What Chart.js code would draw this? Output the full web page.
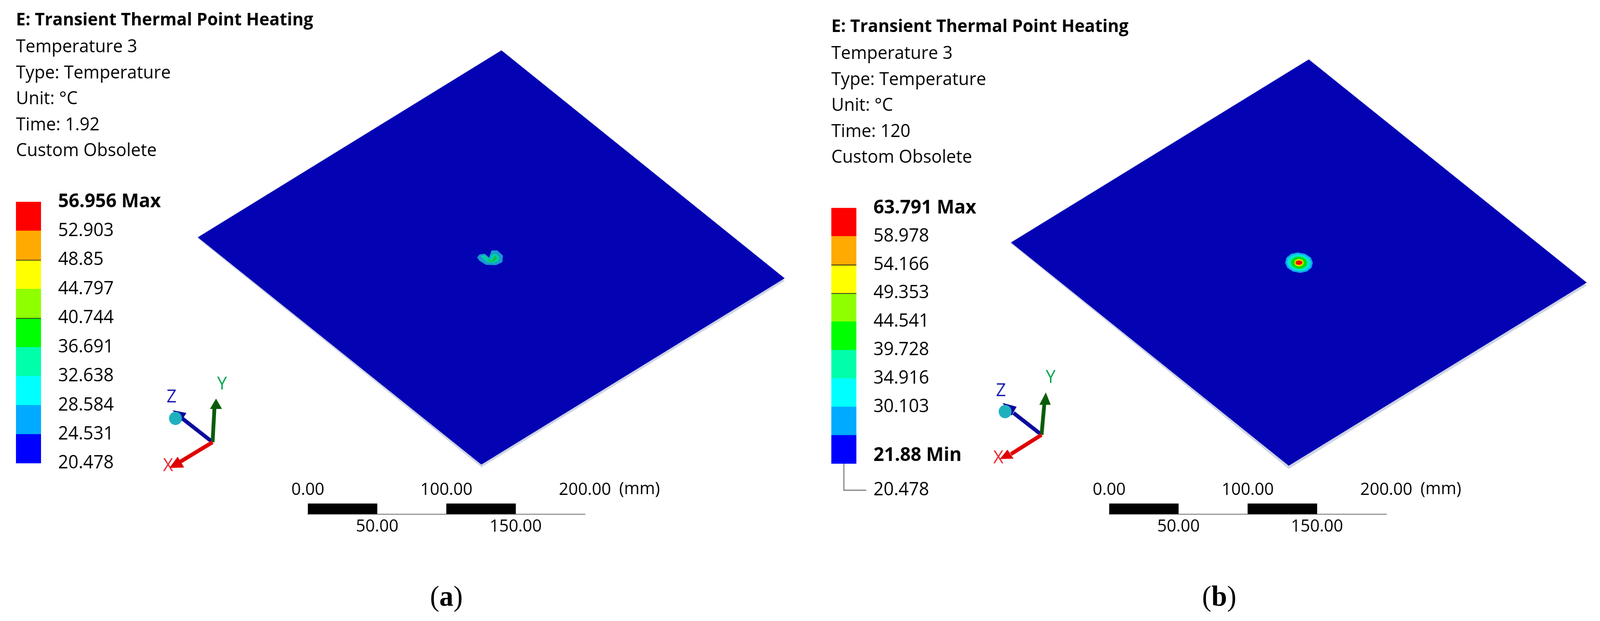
<!DOCTYPE html>
<html>
<head>
<meta charset="utf-8">
<script src="https://cdn.jsdelivr.net/npm/chart.js@4"></script>
<style>
  html, body { margin: 0; background: #fff; height: 1591px; overflow: hidden; }
  #page { position: absolute; left: 0; top: 0; width: 4215px; height: 1591px; overflow: hidden; transform-origin: 0 0; }
  canvas { position: absolute; }
  .cap { position: absolute; top: 1485px; width: 200px; text-align: center; font: 74px "Liberation Serif"; color: #000; }
</style>
</head>
<body>
<div id="page">
  <div class="cap" style="left:1076px">(<b>a</b>)</div>
  <div class="cap" style="left:3112px">(<b>b</b>)</div>
</div>
<script>
// header text
const titleText = 'E: Transient Thermal Point Heating';
const infoLinesA = ['Temperature 3', 'Type: Temperature', 'Unit: °C', 'Time: 1.92', 'Custom Obsolete'];
const infoLinesB = ['Temperature 3', 'Type: Temperature', 'Unit: °C', 'Time: 120', 'Custom Obsolete'];

// colour legend, bottom to top
const bandColors = ['#0000ff', '#00aaff', '#00ffff', '#00ffaa', '#00ff00', '#8fff00', '#ffff00', '#ffaa00', '#ff0000'];
const edgesA = [20.478, 24.531, 28.584, 32.638, 36.691, 40.744, 44.797, 48.85, 52.903, 56.956];
const edgesB = [20.478, 25.29, 30.103, 34.916, 39.728, 44.541, 49.353, 54.166, 58.978, 63.791];
const tickValuesA = edgesA;
const tickLabelsA = ['20.478', '24.531', '28.584', '32.638', '36.691', '40.744', '44.797', '48.85', '52.903', '56.956 Max'];
const tickValuesB = [21.88, 30.103, 34.916, 39.728, 44.541, 49.353, 54.166, 58.978, 63.791];
const tickLabelsB = ['21.88 Min', '30.103', '34.916', '39.728', '44.541', '49.353', '54.166', '58.978', '63.791 Max'];

// scale bar, mm
const barSegments = [[0, 50], [100, 150]];
const barTicksTop = [0, 100, 200];
const barTicksBottom = [50, 150];

// plates in mm, origin at the hot spot
const plateAx = [8.5, 212.9, -6.0, -210.7];
const plateAy = [144.9, -15.1, -145.8, 13.7];
const shadowAy = [144.9, -17.0, -147.7, 12.9];
const plateBx = [7.1, 207.7, -7.4, -207.9];
const plateBy = [142.7, -14.0, -142.5, 14.2];
const shadowBy = [142.7, -16.0, -144.7, 13.4];

// hot spot (a)
const spotA1x = [-9.1, -7.3, -3.6, -0.5, 0.5, 1.4, 5.5, 9.6, 9.1, 4.6, -2.7, -7.3];
const spotA1y = [-0.5, 1.7, 2.2, -0.4, 2.2, 4.5, 4.5, 0.8, -3.8, -5.8, -5.6, -2.8];
const spotA2x = [-6.4, -3.6, 0, 1.8, 4.6, 6.8, 6.4, 2.7, -1.8];
const spotA2y = [0.4, 1.3, -1.9, 1.7, 2.2, -0.1, -2.8, -4.4, -3.8];
const spotA3x = [-4.1, -1.4, 1.8, 3.6, 5.5, 2.7, -0.5];
const spotA3y = [0.8, -1.9, -2.8, 0.8, -1.0, -3.5, -3.1];

// hot spot (b), contour rings from outside in
const ringColors = ['#10a8f0', '#00e6d2', '#00e000', '#e8f000', '#ffaa00', '#e81000'];
const ring1x = [10, 8.5, 4.4, -1, -5.6, -9, -10, -8.4, -4.4, 1, 5.6, 9];
const ring1y = [0, 3.6, 6.2, 7.2, 6.2, 3.6, 0, -3.6, -6.2, -7.2, -6.2, -3.6];
const ring2x = [8.6, 7.3, 3.8, -0.8, -4.8, -7.8, -8.6, -7.3, -3.8, 0.8, 4.8, 7.8];
const ring2y = [0, 3, 5.2, 6, 5.2, 3, 0, -3, -5.2, -6, -5.2, -3];
const ring3x = [5.9, 5, 2.7, -0.4, -3.2, -5.2, -5.9, -5, -2.7, 0.4, 3.2, 5.2];
const ring3y = [0, 2.1, 3.7, 4.3, 3.7, 2.1, 0, -2.1, -3.7, -4.3, -3.7, -2.1];
const ring4x = [3.5, 2.5, 0, -2.5, -3.5, -2.5, 0, 2.5];
const ring4y = [0, 1.9, 2.7, 1.9, 0, -1.9, -2.7, -1.9];
const ring5x = [3, 2.1, 0, -2.1, -3, -2.1, 0, 2.1];
const ring5y = [0, 1.5, 2.1, 1.5, 0, -1.5, -2.1, -1.5];
const ring6x = [2.5, 1.8, 0, -1.8, -2.5, -1.8, 0, 1.8];
const ring6y = [0, 1.1, 1.5, 1.1, 0, -1.1, -1.5, -1.1];

// axis triads, mm on the same plot
const triadA = {
  yShaftX: [-200, -198.6], yShaftY: [-130.1, -105],
  yHeadX: [-197.5, -193.2, -201.9], yHeadY: [-99.5, -106.8, -106.8],
  zShaftX: [-200, -221.9], zShaftY: [-130.1, -113.4],
  zHeadX: [-228.8, -218.9, -222.7], zHeadY: [-107.7, -109.6, -115.6],
  ballX: [-226.8], ballY: [-113.4],
  xShaftX: [-200, -223.6], xShaftY: [-130.1, -144.0],
  xHeadX: [-231.2, -225.2, -220.5], xHeadY: [-148.2, -140.3, -147.9],
  letterX: [-232.1, -193.2, -229.6], letterY: [-146.8, -89.6, -98.6]
};
const triadB = {
  yShaftX: [-185.8, -183.6], yShaftY: [-120.8, -97],
  yHeadX: [-182.7, -179.2, -187.4], yHeadY: [-91.0, -99.7, -99.7],
  zShaftX: [-185.8, -206.0], zShaftY: [-120.8, -105.5],
  zHeadX: [-214, -203.8, -207.4], zHeadY: [-98.4, -101.1, -107.4],
  ballX: [-212.1], ballY: [-104.5],
  xShaftX: [-185.8, -207.9], xShaftY: [-120.8, -134.4],
  xHeadX: [-215.9, -210.4, -206.0], xHeadY: [-137.8, -131.2, -137.5],
  letterX: [-217, -179.2, -215.1], letterY: [-137.3, -80.8, -90.1]
};

// the browser window can come out narrower than asked, keep the whole 4215 wide figure in frame
const page = document.getElementById('page');
page.style.transform = 'scaleX(' + (window.innerWidth / 4215) + ')';

const FONT = '"Open Sans"';
Chart.defaults.font.family = FONT;
Chart.defaults.color = '#000';
Chart.defaults.animation = false;
Chart.defaults.responsive = false;
Chart.defaults.devicePixelRatio = 1;
Chart.defaults.plugins.legend.display = false;
Chart.defaults.plugins.tooltip.enabled = false;

function addCanvas(left, top, width, height) {
  const c = document.createElement('canvas');
  c.width = width;
  c.height = height;
  c.style.left = left + 'px';
  c.style.top = top + 'px';
  page.appendChild(c);
  return c;
}

// colour legend with the header text above it
function legendChart(left, edges, tickValues, tickLabels, info, pad, lines, extra) {
  const bands = bandColors.map((color, i) => {
    const ds = { data: [[edges[i], edges[i + 1]]], backgroundColor: color, grouped: false,
      barPercentage: 1, categoryPercentage: 1 };
    if (lines.includes(i)) {
      ds.borderColor = '#222';
      ds.borderWidth = { top: 2, left: 0, right: 0, bottom: 0 };
      ds.borderSkipped = false;
    }
    return ds;
  });
  new Chart(addCanvas(left, 0, 860, 1300), {
    type: 'bar',
    data: { labels: ['T'], datasets: bands },
    options: {
      layout: { padding: { left: pad.left, right: 0, top: 0, bottom: 1300 - pad.bottom } },
      plugins: {
        title: { display: true, text: titleText, align: 'start',
          font: { size: 45, weight: 'bold', lineHeight: 1.5 }, padding: { top: pad.titleTop, bottom: 2 } },
        subtitle: { display: true, text: info, align: 'start',
          font: { size: 46, weight: 'normal', lineHeight: 66.5 / 46 }, padding: { top: 0, bottom: pad.infoBottom } }
      },
      scales: {
        x: { display: false },
        y: {
          position: 'right',
          min: edges[0],
          max: edges[edges.length - 1],
          grid: { display: false, drawTicks: false },
          border: { display: false },
          afterBuildTicks: s => { s.ticks = tickValues.map(v => ({ value: v })); },
          afterFit: s => { s.width = 860 - pad.left - 66; s.paddingTop = 0; s.paddingBottom = 0; },
          ticks: {
            autoSkip: false,
            padding: 45,
            color: '#000',
            callback: (v, i) => tickLabels[i],
            font: c => /M/.test(tickLabels[c.index] || '') ? { size: 49, weight: 'bold' } : { size: 47, weight: 'normal' }
          }
        }
      }
    },
    plugins: extra ? [extra] : []
  });
}

// leader line from the bottom of legend (b) to its lowest value
const leaderLine = {
  id: 'leaderLine',
  afterDraw(chart) {
    const { ctx, chartArea } = chart;
    const y0 = chart.scales.y.getPixelForValue(edgesB[0]);
    const xMid = (chartArea.left + chartArea.right) / 2;
    ctx.save();
    ctx.strokeStyle = '#808080';
    ctx.lineWidth = 3;
    ctx.beginPath();
    ctx.moveTo(xMid, y0);
    ctx.lineTo(xMid, y0 + 68);
    ctx.lineTo(xMid + 59, y0 + 68);
    ctx.stroke();
    ctx.fillStyle = '#000';
    ctx.font = '47px ' + FONT;
    ctx.textBaseline = 'middle';
    ctx.fillText(String(edgesB[0]), chartArea.right + 45, y0 + 68);
    ctx.restore();
  }
};

function pts(xs, ys) {
  return xs.map((x, i) => ({ x, y: ys[i] }));
}

function plateChart(left, top, layers, triad) {
  const T = triad;
  const shapes = layers.map(l => ({ data: pts(l[0], l[1]), backgroundColor: l[2], fill: 'shape', borderWidth: 0 }));
  const parts = [
    { data: pts(T.zShaftX, T.zShaftY), borderColor: '#0a0a9e', borderWidth: 10 },
    { data: pts(T.zHeadX, T.zHeadY), backgroundColor: '#0a0a9e', fill: 'shape', borderWidth: 0 },
    { data: pts(T.ballX, T.ballY), pointRadius: 17, pointBackgroundColor: '#1fb0c0', pointBorderWidth: 0 },
    { data: pts(T.yShaftX, T.yShaftY), borderColor: '#0a5c0a', borderWidth: 10 },
    { data: pts(T.yHeadX, T.yHeadY), backgroundColor: '#0a5c0a', fill: 'shape', borderWidth: 0 },
    { data: pts(T.xShaftX, T.xShaftY), borderColor: '#e00000', borderWidth: 10 },
    { data: pts(T.xHeadX, T.xHeadY), backgroundColor: '#e00000', fill: 'shape', borderWidth: 0 }
  ];
  const all = shapes.concat(parts);
  all.forEach((d, i) => {
    d.order = all.length - i;
    d.showLine = true;
    d.tension = 0;
    if (d.pointRadius === undefined) d.pointRadius = 0;
  });
  const letters = {
    id: 'triadLetters',
    afterDraw(chart) {
      const { ctx, scales } = chart;
      ctx.save();
      ctx.font = '46px ' + FONT;
      ctx.textAlign = 'center';
      ctx.textBaseline = 'middle';
      [['X', '#e8282f'], ['Y', '#00a550'], ['Z', '#1a1ab0']].forEach((l, i) => {
        ctx.fillStyle = l[1];
        ctx.fillText(l[0], scales.x.getPixelForValue(T.letterX[i]), scales.y.getPixelForValue(T.letterY[i]));
      });
      ctx.restore();
    }
  };
  new Chart(addCanvas(left, top, 1679, 1168), {
    type: 'scatter',
    data: { datasets: all },
    options: {
      layout: { padding: 0, autoPadding: false },
      scales: {
        x: { type: 'linear', display: false, min: -240, max: 220 },
        y: { type: 'linear', display: false, min: -160, max: 160 }
      }
    },
    plugins: [letters]
  });
}

// scale bar as a one row horizontal bar chart on a mm axis
function scaleBarChart(left) {
  const tickAxis = (position, values, padding) => ({
    type: 'linear',
    position,
    min: 0,
    max: 200,
    grid: { display: false, drawTicks: false },
    afterBuildTicks: s => { s.ticks = values.map(v => ({ value: v })); },
    afterFit: s => { s.height = 70; s.paddingLeft = 0; s.paddingRight = 0; },
    ticks: { autoSkip: false, maxRotation: 0, padding, font: { size: 44 }, color: '#000',
      callback: v => v.toFixed(2) }
  });
  const mmUnit = {
    id: 'mmUnit',
    afterDraw(chart) {
      const { ctx, chartArea } = chart;
      ctx.save();
      ctx.fillStyle = '#000';
      ctx.font = '44px ' + FONT;
      ctx.textBaseline = 'middle';
      ctx.fillText('(mm)', chart.scales.xTop.getPixelForValue(200) + 90, chartArea.top - 37);
      ctx.restore();
    }
  };
  const bottomAxis = tickAxis('bottom', barTicksBottom, 6);
  bottomAxis.border = { display: true, color: '#999', width: 3 };
  const topAxis = tickAxis('top', barTicksTop, 8);
  topAxis.border = { display: false };
  new Chart(addCanvas(left - 150, 1220, 1180, 167), {
    type: 'bar',
    data: {
      labels: ['mm'],
      datasets: barSegments.map(s => ({ data: [s], backgroundColor: '#000', grouped: false,
        barPercentage: 1, categoryPercentage: 1 }))
    },
    options: {
      indexAxis: 'y',
      layout: { padding: { left: 150, right: 300, top: 0, bottom: 0 } },
      scales: {
        x: bottomAxis,
        xTop: topAxis,
        y: { display: false }
      }
    },
    plugins: [mmUnit]
  });
}

const plateBlue = '#0303b4';
const shadowColor = '#cdd3e6';

plateChart(414, 74, [
  [plateAx, shadowAy, shadowColor],
  [plateAx, plateAy, plateBlue],
  [spotA1x, spotA1y, '#1a9ad0'],
  [spotA2x, spotA2y, '#00d0a8'],
  [spotA3x, spotA3y, '#10c040']
], triadA);

plateChart(2546, 89, [
  [plateBx, shadowBy, shadowColor],
  [plateBx, plateBy, plateBlue],
  [ring1x, ring1y, ringColors[0]],
  [ring2x, ring2y, ringColors[1]],
  [ring3x, ring3y, ringColors[2]],
  [ring4x, ring4y, ringColors[3]],
  [ring5x, ring5y, ringColors[4]],
  [ring6x, ring6y, ringColors[5]]
], triadB);

legendChart(0, edgesA, tickValuesA, tickLabelsA, infoLinesA,
  { left: 42, bottom: 1187, titleTop: 18.5, infoBottom: 96.5 }, [6, 4], null);
legendChart(2148, edgesB, tickValuesB, tickLabelsB, infoLinesB,
  { left: 42, bottom: 1188, titleTop: 35.5, infoBottom: 95.1 }, [5, 6], leaderLine);

scaleBarChart(811);
scaleBarChart(2922);
</script>
</body>
</html>
